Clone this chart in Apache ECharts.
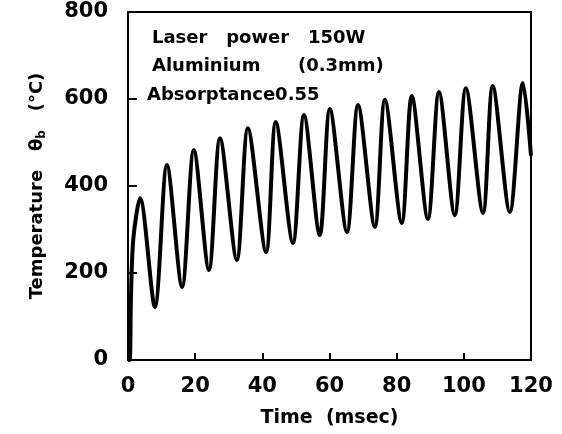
<!DOCTYPE html>
<html><head><meta charset="utf-8">
<script src="https://cdn.jsdelivr.net/npm/echarts@6/dist/echarts.min.js"></script>
<style>html,body{margin:0;padding:0;background:#fff}#c{width:562px;height:434px}</style>
</head><body><div id="c"></div>
<script>
// time (msec) and temperature (°C) (start, peaks and troughs)
var timeMs = [0, 0.5, 0.9, 1.6, 3.6, 8.0, 11.6, 16.1, 19.6, 24.1, 27.4, 32.4, 35.7, 41.1, 44.0, 49.1, 52.4, 57.1, 60.1, 65.2, 68.5, 73.5, 76.5, 81.5, 84.5, 89.3, 92.6, 97.3, 100.6, 105.7, 108.6, 113.7, 117.6, 120];
var tempC  = [0, 0, 150, 280, 372, 122, 448, 168, 483, 207, 510, 230, 533, 248, 547, 269, 563, 287, 577, 294, 586, 306, 598, 315, 607, 324, 616, 333, 625, 338, 630, 340, 637, 470];
var xTicks = [0, 20, 40, 60, 80, 100, 120];
var yTicks = [0, 200, 400, 600, 800];
var notes = ['Laser   power   150W', 'Aluminium      (0.3mm)', 'Absorptance0.55'];

var data = timeMs.map(function (t, i) { return [t, tempC[i]]; });
var chart = echarts.init(document.getElementById('c'));
var font = 'DejaVu Sans';
chart.setOption({
  animation: false,
  backgroundColor: '#fff',
  grid: { left: 128, right: 31, top: 12, bottom: 74, show: true, borderColor: '#000', borderWidth: 2, backgroundColor: 'transparent' },
  xAxis: {
    type: 'value', min: 0, max: 120, interval: 20,
    name: 'Time  (msec)', nameLocation: 'middle', nameGap: 49,
    nameTextStyle: { fontFamily: font, fontSize: 19, fontWeight: 'bold', color: '#000' },
    axisLine: { lineStyle: { color: '#000', width: 2 } },
    axisTick: { inside: true, length: 7, lineStyle: { color: '#000', width: 2 } },
    axisLabel: { margin: 16, fontFamily: font, fontSize: 21, fontWeight: 'bold', color: '#000', formatter: function (v) { return xTicks.indexOf(v) >= 0 ? String(v) : ''; } },
    splitLine: { show: false }
  },
  yAxis: {
    type: 'value', min: 0, max: 800, interval: 200,
    name: '{n|Temperature   θ}{s|b}{n|   (°C)}', nameLocation: 'middle', nameGap: 80, nameRotate: 90,
    nameTextStyle: { rich: {
      n: { fontFamily: font, fontSize: 18, fontWeight: 'bold', color: '#000' },
      s: { fontFamily: font, fontSize: 12, fontWeight: 'bold', color: '#000', verticalAlign: 'bottom', padding: [10, 0, 0, 0] }
    } },
    axisLine: { lineStyle: { color: '#000', width: 2 } },
    axisTick: { inside: true, length: 9, lineStyle: { color: '#000', width: 2 } },
    axisLabel: { margin: 20, fontFamily: font, fontSize: 21, fontWeight: 'bold', color: '#000', formatter: function (v) { return yTicks.indexOf(v) >= 0 ? String(v) : ''; } },
    splitLine: { show: false }
  },
  graphic: [
    { type: 'text', left: 152, top: 29, style: { text: notes[0], fontFamily: font, fontSize: 18, fontWeight: 'bold', fill: '#000' } },
    { type: 'text', left: 152, top: 57, style: { text: notes[1], fontFamily: font, fontSize: 18, fontWeight: 'bold', fill: '#000' } },
    { type: 'text', left: 147, top: 86, style: { text: notes[2], fontFamily: font, fontSize: 18, fontWeight: 'bold', fill: '#000' } }
  ],
  series: [{
    type: 'line', data: data, smooth: 0.3, symbol: 'none', clip: true,
    lineStyle: { color: '#000', width: 4 }
  }]
});
</script></body></html>
